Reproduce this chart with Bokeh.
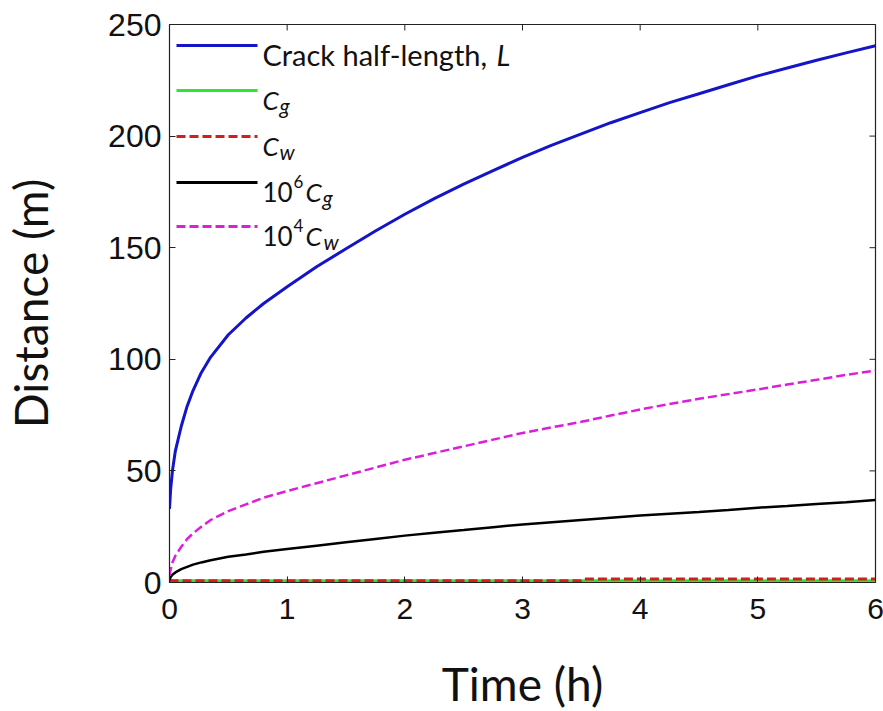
from bokeh.plotting import figure
from bokeh.models import Label, FixedTicker, Range1d
from bokeh.embed import file_html
from bokeh.resources import INLINE

# ---------------- data ----------------
time_h = [0, 0.01, 0.025, 0.05, 0.1, 0.15, 0.2, 0.27, 0.35, 0.5, 0.65, 0.8, 1,
          1.25, 1.5, 1.75, 2, 2.25, 2.5, 2.75, 3, 3.25, 3.5, 3.75, 4,
          4.25, 4.5, 4.75, 5, 5.25, 5.5, 5.75, 6]
crack_L = [33, 42, 50, 59, 70, 79, 86, 94, 101, 111, 118.5, 125, 132.5,
           141.5, 149.5, 157.5, 165, 172, 178.5, 184.5, 190.5, 196, 201, 206, 210.5,
           215, 219, 223, 227, 230.5, 234, 237.3, 240.5]
cg_1e6 = [1, 2.5, 3.5, 4.5, 6, 7, 8, 9, 10, 11.5, 12.5, 13.8, 15,
          16.5, 18, 19.5, 21, 22.3, 23.5, 24.8, 26, 27, 28, 29, 30,
          30.8, 31.6, 32.5, 33.5, 34.3, 35.2, 36, 37]
cw_1e4 = [3, 6, 9, 12, 16, 19.5, 22, 25, 28, 32, 35, 38, 41,
          44.5, 48, 51.5, 55, 58, 61, 64, 67, 69.5, 72, 74.8, 77.5,
          80, 82.3, 84.4, 86.5, 88.7, 90.8, 93, 95]
cg = [0.7, 0.7, 0.7, 0.7, 0.7, 0.7, 0.7, 0.7, 0.7, 0.7, 0.7, 0.7, 0.7,
      0.7, 0.7, 0.7, 0.7, 0.7, 0.7, 0.7, 0.7, 0.7, 0.7, 0.7, 0.7,
      0.7, 0.7, 0.7, 0.7, 0.7, 0.7, 0.7, 0.7]
cw_time = [0, 1, 2, 3, 3.5, 3.52, 4, 5, 6]
cw = [0.8, 0.8, 0.8, 0.8, 0.8, 1.6, 1.6, 1.6, 1.6]

x_ticks = [0, 1, 2, 3, 4, 5, 6]
y_ticks = [0, 50, 100, 150, 200, 250]
x_label = "Time (h)"
y_label = "Distance (m)"

# ---------------- styles / layout ----------------
BLUE = "#1414C8"
GREEN = "#2EE62E"
RED = "#D41E1E"
BLACK = "#000000"
MAGENTA = "#DC1EDC"
DASH = "9 4"
FW, FH = 706, 558
XMIN, XMAX, YMIN, YMAX = 0, 6, 0, 250
LEG_FONT = "Lato"
TICK_LEN = 6

p = figure(
    output_backend="svg", toolbar_location=None,
    frame_width=FW, frame_height=FH,
    min_border_left=165, min_border_right=12, min_border_top=24, min_border_bottom=129,
    x_range=Range1d(XMIN, XMAX), y_range=Range1d(YMIN, YMAX),
    background_fill_color="white", border_fill_color="white",
)
p.grid.visible = False
p.outline_line_color = "#222222"
p.outline_line_width = 1.2

for ax, ticks in ((p.xaxis[0], x_ticks), (p.yaxis[0], y_ticks)):
    ax.ticker = FixedTicker(ticks=ticks)
    ax.major_tick_in = TICK_LEN
    ax.major_tick_out = 0
    ax.minor_tick_line_color = None
    ax.axis_line_color = "#222222"
    ax.major_tick_line_color = "#222222"
    ax.major_label_text_font = "Liberation Sans"
    ax.major_label_text_color = "#111111"
    ax.axis_label_text_font = "Lato"
    ax.axis_label_text_font_size = "46px"
    ax.axis_label_text_font_style = "normal"
    ax.axis_label_text_color = "#111111"

p.xaxis[0].major_label_text_font_size = "30px"
p.yaxis[0].major_label_text_font_size = "32px"
p.xaxis[0].axis_label = x_label
p.yaxis[0].axis_label = y_label
p.xaxis[0].major_label_standoff = 16
p.xaxis[0].axis_label_standoff = 34
p.yaxis[0].major_label_standoff = 8
p.yaxis[0].axis_label_standoff = 47


def px_x(px):
    return XMIN + px * (XMAX - XMIN) / FW


def px_y(py):
    return YMAX - py * (YMAX - YMIN) / FH


# inward ticks on top and right edges (same tick lists as the axes)
dy_tick = YMAX - px_y(TICK_LEN)
dx_tick = px_x(TICK_LEN) - XMIN
p.segment(x0=x_ticks, y0=[YMAX] * len(x_ticks), x1=x_ticks, y1=[YMAX - dy_tick] * len(x_ticks),
          line_color="#222222", line_width=1)
p.segment(x0=[XMAX] * len(y_ticks), y0=y_ticks, x1=[XMAX - dx_tick] * len(y_ticks), y1=y_ticks,
          line_color="#222222", line_width=1)

# ---------------- data lines ----------------
p.line(time_h, crack_L, line_color=BLUE, line_width=3)
p.line(time_h, cg, line_color=GREEN, line_width=3.5)
p.line(cw_time, cw, line_color=RED, line_width=3, line_dash=DASH)
p.line(time_h, cg_1e6, line_color=BLACK, line_width=2.5)
p.line(time_h, cw_1e4, line_color=MAGENTA, line_width=2.5, line_dash=DASH)

# ---------------- manual legend (pixel layout -> data coords) ----------------
leg_rows = [21, 66, 112, 158, 202]
leg_styles = [(BLUE, None, 3), (GREEN, None, 3), (RED, DASH, 3), (BLACK, None, 3), (MAGENTA, DASH, 3)]
for row, (col, dash, lw) in zip(leg_rows, leg_styles):
    kw = dict(line_color=col, line_width=lw)
    if dash:
        kw["line_dash"] = dash
    p.line([px_x(7), px_x(88)], [px_y(row), px_y(row)], **kw)

MAIN, SUB, SUP = 26, 21, 17
# (row index, text, x px, baseline shift px, size, style)
pieces = [
    (0, "Crack half-length,", 93, 0, 29, "normal"),
    (0, "L", 327, 0, 29, "italic"),
    (1, "C", 93, 0, MAIN, "italic"),
    (1, "g", 110, 6, SUB, "italic"),
    (2, "C", 93, 0, MAIN, "italic"),
    (2, "w", 110, 6, SUB, "italic"),
    (3, "10", 93, 0, MAIN, "normal"),
    (3, "6", 124, -10, SUP, "normal"),
    (3, "C", 136, 0, MAIN, "italic"),
    (3, "g", 153, 6, SUB, "italic"),
    (4, "10", 93, 0, MAIN, "normal"),
    (4, "4", 124, -10, SUP, "normal"),
    (4, "C", 136, 0, MAIN, "italic"),
    (4, "w", 154, 6, SUB, "italic"),
]
for ri, txt, xp, dy, size, style in pieces:
    base = leg_rows[ri] + 9 + dy
    p.add_layout(Label(
        x=px_x(xp), y=px_y(base), text=txt,
        text_font=LEG_FONT, text_font_size=f"{size}px", text_font_style=style,
        text_color="#111111", text_baseline="alphabetic", text_align="left",
    ))

open("out.html", "w").write(file_html(p, INLINE))
